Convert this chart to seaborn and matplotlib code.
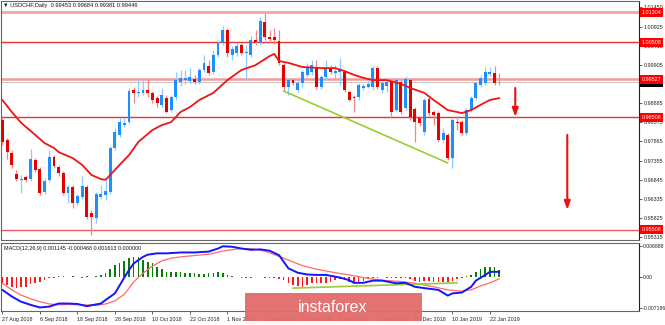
import matplotlib
matplotlib.use("Agg")
import matplotlib.pyplot as plt
import matplotlib.transforms as mtransforms
from matplotlib.patches import Rectangle
import seaborn as sns
import numpy as np

sns.set_style("white")
plt.rcParams['font.family'] = ['Liberation Sans', 'DejaVu Sans']

# ---------------- data ----------------
title_text = "\u25BC USDCHF,Daily  0.99453 0.99684 0.99381 0.99446"
macd_text = "MACD(12,26,9) 0.001145 -0.000468 0.001613 0.000000"

open_ = [0.9844, 0.9790, 0.9756, 0.9700, 0.9684, 0.9692, 0.9686, 0.9737, 0.9713, 0.9652,
         0.9684, 0.9745, 0.9718, 0.9702, 0.9649, 0.9665, 0.9622, 0.9638, 0.9665, 0.9596,
         0.9582, 0.9638, 0.9644, 0.9652, 0.9769, 0.9804, 0.9830, 0.9838, 0.9924, 0.9916,
         0.9916, 0.9924, 0.9916, 0.9902, 0.9884, 0.9902, 0.9870, 0.9905, 0.9945, 0.9950,
         0.9948, 0.9953, 0.9945, 0.9977, 0.9988, 0.9972, 1.0017, 1.0049, 1.0084, 1.0017,
         1.0022, 1.0044, 1.0022, 1.0017, 1.0057, 1.0049, 1.0105, 1.0065, 1.0065, 1.0054,
         0.9990, 0.9932, 0.9950, 0.9924, 0.9942, 0.9964, 0.9972, 0.9982, 0.9932, 0.9958,
         0.9982, 0.9969, 0.9972, 0.9972, 0.9918, 0.9905, 0.9905, 0.9929, 0.9932, 0.9932,
         0.9982, 0.9924, 0.9934, 0.9945, 0.9870, 0.9945, 0.9876, 0.9950, 0.9873, 0.9849,
         0.9812, 0.9900, 0.9865, 0.9862, 0.9790, 0.9804, 0.9742, 0.9838, 0.9838, 0.9809,
         0.9870, 0.9902, 0.9937, 0.9942, 0.9966, 0.9969, 0.99453]
close = [0.9785, 0.9758, 0.9724, 0.9686, 0.9686, 0.9684, 0.9740, 0.9710, 0.9649, 0.9681,
         0.9745, 0.9721, 0.9702, 0.9649, 0.9665, 0.9622, 0.9641, 0.9668, 0.9585, 0.9585,
         0.9646, 0.9646, 0.9654, 0.9769, 0.9812, 0.9838, 0.9836, 0.9921, 0.9916, 0.9918,
         0.9924, 0.9916, 0.9897, 0.9889, 0.9910, 0.9865, 0.9905, 0.9950, 0.9956, 0.9956,
         0.9958, 0.9945, 0.9977, 0.9996, 0.9969, 1.0017, 1.0049, 1.0084, 1.0022, 1.0033,
         1.0041, 1.0022, 1.0025, 1.0057, 1.0052, 1.0108, 1.0065, 1.0060, 1.0057, 0.9996,
         0.9932, 0.9950, 0.9942, 0.9942, 0.9972, 0.9985, 0.9990, 0.9932, 0.9958, 0.9982,
         0.9972, 0.9974, 0.9977, 0.9924, 0.9897, 0.9902, 0.9937, 0.9934, 0.9940, 0.9982,
         0.9932, 0.9942, 0.9945, 0.9865, 0.9950, 0.9865, 0.9953, 0.9852, 0.9838, 0.9836,
         0.9897, 0.9862, 0.9857, 0.9790, 0.9809, 0.9742, 0.9844, 0.9836, 0.9809, 0.9870,
         0.9902, 0.9942, 0.9956, 0.9972, 0.9972, 0.9942, 0.99446]
high = [0.9849, 0.9796, 0.9764, 0.9710, 0.9697, 0.9697, 0.9766, 0.9742, 0.9718, 0.9689,
        0.9764, 0.9750, 0.9724, 0.9708, 0.9670, 0.9670, 0.9646, 0.9694, 0.9670, 0.9604,
        0.9652, 0.9670, 0.9684, 0.9774, 0.9822, 0.9849, 0.9849, 0.9929, 0.9932, 0.9950,
        0.9950, 0.9953, 0.9921, 0.9908, 0.9929, 0.9910, 0.9910, 0.9972, 0.9977, 0.9977,
        0.9982, 0.9964, 0.9982, 1.0017, 1.0004, 1.0030, 1.0057, 1.0094, 1.0089, 1.0041,
        1.0049, 1.0049, 1.0044, 1.0068, 1.0084, 1.0118, 1.0129, 1.0084, 1.0089, 1.0084,
        0.9996, 0.9956, 0.9956, 0.9950, 0.9977, 0.9996, 1.0004, 1.0004, 0.9964, 1.0004,
        0.9990, 0.9990, 1.0009, 0.9977, 0.9924, 0.9910, 0.9942, 0.9940, 0.9950, 0.9988,
        0.9988, 0.9950, 0.9956, 0.9950, 0.9956, 0.9950, 0.9961, 0.9956, 0.9878, 0.9854,
        0.9902, 0.9905, 0.9870, 0.9868, 0.9822, 0.9809, 0.9849, 0.9854, 0.9844, 0.9876,
        0.9908, 0.9945, 0.9964, 0.9985, 0.9985, 0.9988, 0.99684]
low = [0.9777, 0.9740, 0.9716, 0.9681, 0.9649, 0.9678, 0.9681, 0.9705, 0.9644, 0.9646,
       0.9678, 0.9716, 0.9694, 0.9644, 0.9622, 0.9609, 0.9617, 0.9633, 0.9580, 0.9537,
       0.9569, 0.9633, 0.9630, 0.9646, 0.9764, 0.9798, 0.9825, 0.9833, 0.9889, 0.9905,
       0.9910, 0.9905, 0.9889, 0.9878, 0.9878, 0.9862, 0.9865, 0.9897, 0.9934, 0.9940,
       0.9942, 0.9940, 0.9940, 0.9972, 0.9964, 0.9966, 1.0012, 1.0044, 1.0012, 1.0004,
       1.0014, 1.0017, 0.9950, 1.0012, 1.0044, 1.0044, 1.0057, 1.0049, 1.0046, 0.9990,
       0.9924, 0.9910, 0.9937, 0.9918, 0.9932, 0.9958, 0.9964, 0.9926, 0.9926, 0.9950,
       0.9966, 0.9956, 0.9937, 0.9918, 0.9894, 0.9865, 0.9897, 0.9924, 0.9929, 0.9924,
       0.9926, 0.9916, 0.9918, 0.9849, 0.9865, 0.9860, 0.9870, 0.9844, 0.9785, 0.9828,
       0.9804, 0.9854, 0.9830, 0.9785, 0.9785, 0.9737, 0.9716, 0.9817, 0.9804, 0.9804,
       0.9865, 0.9897, 0.9932, 0.9937, 0.9961, 0.9937, 0.99381]

# moving average (read at sample bars)
ma_idx = [0, 2, 4, 7, 9, 11, 12, 15, 17, 19, 21, 22, 23, 25, 27, 29, 32, 34, 36, 38, 40, 42,
          45, 48, 51, 54, 57, 58, 59, 61, 64, 68, 71, 73, 75, 77, 79, 82, 85, 87, 90, 92, 95,
          97, 98, 100, 102, 104, 106]
ma_val = [0.9897, 0.9865, 0.9836, 0.9804, 0.9782, 0.9769, 0.9758, 0.9742, 0.9724, 0.9697,
          0.9686, 0.9684, 0.9697, 0.9724, 0.9750, 0.9785, 0.9817, 0.9830, 0.9838, 0.9865,
          0.9878, 0.9897, 0.9916, 0.9950, 0.9977, 0.9990, 1.0014, 1.0020, 1.0001, 0.9996,
          0.9985, 0.9982, 0.9982, 0.9974, 0.9964, 0.9956, 0.9950, 0.9950, 0.9940, 0.9929,
          0.9916, 0.9897, 0.9870, 0.9865, 0.9862, 0.9870, 0.9884, 0.9897, 0.9902]

# horizontal levels
levels = [1.01304, 1.00508, 0.99527, 0.98508, 0.95508]
level_colors = ["#f7a3a3", "#ee3030", "#f59a9a", "#ee3030", "#f05a5a"]
level_widths = [2.0, 1.0, 1.8, 1.0, 1.0]
last_price = 0.99446
price_ticks = [1.01450, 1.00925, 1.00415, 0.99905, 0.99395, 0.98885, 0.98375,
               0.97865, 0.97355, 0.96845, 0.96335, 0.95825, 0.95315]

# green trend line (bar, price)
trend_x = [60, 95]
trend_y = [0.9921, 0.9729]

# arrows (bar, start price, end price)
arrow_x = [109.4, 120.5]
arrow_y0 = [0.9929, 0.9804]
arrow_y1 = [0.9852, 0.9604]

# MACD histogram
hist = [-0.0015, -0.0019, -0.0023, -0.0026, -0.0024, -0.0023, -0.0017, -0.0014, -0.0011, -0.0008,
        -0.0004, -0.0002, 0.0001, 0.0001, -0.0001, 0.0001, -0.0001, -0.0002, 0.0001, -0.0001,
        0.0002, 0.0004, 0.0009, 0.0017, 0.0026, 0.0032, 0.0036, 0.0042, 0.0044, 0.0044,
        0.0039, 0.0034, 0.0030, 0.0023, 0.0017, 0.0011, 0.0011, 0.0011, 0.0011, 0.0009,
        0.0009, 0.0008, 0.0006, 0.0006, 0.0008, 0.0009, 0.0011, 0.0008, 0.0004, 0.0001,
        -0.0001, -0.0002, -0.0002, -0.0002, -0.0001, -0.0001, -0.0002, -0.0002, -0.0004, -0.0006,
        -0.0008, -0.0015, -0.0019, -0.0021, -0.0023, -0.0019, -0.0015, -0.0014, -0.0015, -0.0014,
        -0.0011, -0.0008, -0.0006, -0.0008, -0.0011, -0.0014, -0.0011, -0.0009, -0.0006, -0.0004,
        -0.0002, -0.0001, -0.0002, -0.0003, -0.0002, -0.0004, -0.0003, -0.0006, -0.0009, -0.0011,
        -0.0009, -0.0010, -0.0012, -0.0011, -0.0013, -0.0012, -0.0009, -0.0005, -0.0002, 0.0001,
        0.0004, 0.0011, 0.0017, 0.0021, 0.0023, 0.0023, 0.0016]

macd_idx = [0, 2, 4, 6, 8, 10, 12, 14, 16, 18, 20, 21, 22, 24, 25, 26, 27, 28, 30, 31, 33, 35,
            38, 41, 44, 46, 47, 49, 51, 53, 55, 57, 59, 60, 61, 63, 65, 67, 69, 72, 74, 75, 77,
            79, 81, 84, 86, 88, 90, 93, 95, 96, 98, 100, 101, 103, 104, 106]
macd_val = [-0.0030, -0.0045, -0.0057, -0.0064, -0.0070, -0.0068, -0.0061, -0.0061, -0.0062,
            -0.0067, -0.0063, -0.0061, -0.0053, -0.0038, -0.0020, -0.0002, 0.0015, 0.0030,
            0.0045, 0.0050, 0.0053, 0.0053, 0.0055, 0.0055, 0.0057, 0.0064, 0.0069, 0.0068,
            0.0064, 0.0061, 0.0062, 0.0059, 0.0049, 0.0034, 0.0019, 0.0009, 0.0005, 0.0004,
            0.0004, -0.0002, -0.0008, -0.0014, -0.0014, -0.0009, -0.0009, -0.0015, -0.0014,
            -0.0023, -0.0026, -0.0030, -0.0043, -0.0038, -0.0036, -0.0023, -0.0009, 0.0004,
            0.0011, 0.0011]
signal_idx = [0, 2, 4, 6, 8, 10, 12, 14, 17, 20, 22, 24, 26, 28, 30, 32, 34, 36, 38, 41, 44,
              47, 50, 53, 56, 60, 64, 67, 71, 74, 78, 81, 85, 88, 92, 95, 98, 100, 102, 104, 106]
signal_val = [-0.0015, -0.0030, -0.0042, -0.0050, -0.0057, -0.0062, -0.0064, -0.0063, -0.0064,
              -0.0065, -0.0062, -0.0055, -0.0040, -0.0012, 0.0008, 0.0024, 0.0036, 0.0042,
              0.0045, 0.0048, 0.0051, 0.0058, 0.0063, 0.0064, 0.0058, 0.0042, 0.0025, 0.0017,
              0.0009, 0.0004, -0.0004, -0.0008, -0.0011, -0.0015, -0.0023, -0.0030, -0.0033,
              -0.0030, -0.0021, -0.0014, -0.0005]
macd_trend_x = [62, 97]
macd_trend_y = [-0.0026, -0.0014]
macd_ticks = [0.006888, 0.0, -0.007186]
macd_tick_labels = ["0.006888", "0.00", "-0.007186"]

date_pos = [0, 8, 16, 24, 32, 40, 48, 56, 64, 72, 80, 88, 96, 104]
date_labels = ["27 Aug 2018", "6 Sep 2018", "18 Sep 2018", "28 Sep 2018", "10 Oct 2018",
               "22 Oct 2018", "1 Nov 2018", "13 Nov 2018", "23 Nov 2018", "5 Dec 2018",
               "17 Dec 2018", "27 Dec 2018", "10 Jan 2019", "22 Jan 2019"]

# ---------------- figure ----------------
W, H = 665, 325
fig = plt.figure(figsize=(W / 100, H / 100), dpi=100)
fig.patch.set_facecolor("white")

def frac(x0, y0, x1, y1):
    return [x0 / W, 1 - y1 / H, (x1 - x0) / W, (y1 - y0) / H]

ax = fig.add_axes(frac(1, 1, 639, 240))
axm = fig.add_axes(frac(1, 243, 639, 311))

XMIN, XMAX = -0.3, 135.8
n = len(close)
idx = np.arange(n)
o = np.array(open_); c = np.array(close); h = np.array(high); l = np.array(low)
up = c >= o

BLUE = "#1e8fff"; BLUE_W = "#8ccbff"
RED = "#e60000"; RED_W = "#ec8a8a"
TICK_FS = 3.9

ax.vlines(idx[up], l[up], h[up], color=BLUE_W, lw=0.9, zorder=3)
ax.vlines(idx[~up], l[~up], h[~up], color=RED_W, lw=0.9, zorder=3)
body = np.where(np.abs(c - o) < 0.00004, 0.00004, c - o)
ax.bar(idx[up], body[up], bottom=o[up], width=0.62, color=BLUE, lw=0, zorder=4)
ax.bar(idx[~up], body[~up], bottom=o[~up], width=0.62, color=RED, lw=0, zorder=4)

sns.lineplot(x=ma_idx, y=ma_val, ax=ax, color="#f01414", lw=1.3, zorder=5)

for lv, lc, lw in zip(levels, level_colors, level_widths):
    ax.axhline(lv, color=lc, lw=lw, zorder=2)
ax.axhline(last_price, color="#c8c8c8", lw=0.8, zorder=2)

sns.lineplot(x=trend_x, y=trend_y, ax=ax, color="#9acd32", lw=1.2, zorder=5)

for xa, y0, y1 in zip(arrow_x, arrow_y0, arrow_y1):
    ax.annotate("", xy=(xa, y1), xytext=(xa, y0),
                arrowprops=dict(arrowstyle="-|>,head_length=0.5,head_width=0.18",
                                color="#ee1111", lw=1.5, shrinkA=0, shrinkB=0), zorder=6)

ax.set_xlim(XMIN, XMAX)
ax.set_ylim(0.95236, 1.01610)
ax.set_xticks([])
ax.yaxis.tick_right()
ax.set_yticks(price_ticks)
ax.set_yticklabels([f"{t:.5f}" for t in price_ticks])
ax.tick_params(axis="y", length=2, width=0.5, pad=1.2, labelsize=TICK_FS, colors="#222222", right=True)
ax.set_ylabel("")
ax.set_xlabel("")
for s in ax.spines.values():
    s.set_color("#666666"); s.set_linewidth(0.8)
ax.spines["right"].set_color("#222222")

trans = mtransforms.blended_transform_factory(ax.transAxes, ax.transData)
ax.text(1.004, last_price - 0.00022, f"{last_price:.5f}", transform=trans, fontsize=TICK_FS,
        color="white", va="center", ha="left", clip_on=False, zorder=9,
        bbox=dict(boxstyle="square,pad=0.3", fc="black", ec="none"))
for lv in levels:
    ax.text(1.004, lv, f"{lv:.5f}", transform=trans, fontsize=TICK_FS, color="white",
            va="center", ha="left", clip_on=False, zorder=10,
            bbox=dict(boxstyle="square,pad=0.35", fc="#ff0000", ec="none"))

fig.text(3 / W, 1 - 5.5 / H, title_text, fontsize=4.1, color="#111111", va="center", ha="left")

# ---------------- MACD panel ----------------
hv = np.array(hist)
pos = hv >= 0
axm.bar(idx[pos], hv[pos], width=0.35, color="#0a7a0a", lw=0, zorder=3)
axm.bar(idx[~pos], hv[~pos], width=0.35, color="#ff1a1a", lw=0, zorder=3)
sns.lineplot(x=signal_idx, y=signal_val, ax=axm, color="#ff6a6a", lw=0.9, zorder=4)
sns.lineplot(x=macd_idx, y=macd_val, ax=axm, color="#1414ff", lw=1.4, zorder=5)
sns.lineplot(x=macd_trend_x, y=macd_trend_y, ax=axm, color="#9acd32", lw=1.2, zorder=4)

axm.set_xlim(XMIN, XMAX)
axm.set_ylim(-0.0078, 0.00765)
axm.yaxis.tick_right()
axm.set_yticks(macd_ticks)
axm.set_yticklabels(macd_tick_labels)
axm.tick_params(axis="y", length=2, width=0.5, pad=1.0, labelsize=3.7, colors="#222222", right=True)
axm.set_xticks(date_pos)
axm.set_xticklabels(date_labels, ha="left")
axm.tick_params(axis="x", length=2.5, width=0.5, pad=1.5, labelsize=TICK_FS, colors="#222222", bottom=True)
axm.set_ylabel("")
axm.set_xlabel("")
for s in axm.spines.values():
    s.set_color("#666666"); s.set_linewidth(0.8)
axm.spines["right"].set_color("#222222")
axm.text(0.004, 0.92, macd_text, transform=axm.transAxes, fontsize=3.9,
         color="#111111", va="center", ha="left")

# ---------------- watermark ----------------
fig.patches.append(Rectangle((245 / W, 1 - 321 / H), 177 / W, 28 / H, transform=fig.transFigure,
                             facecolor="#e26a6a", edgecolor="none", alpha=0.95, zorder=20))
fig.text(333 / W, 1 - 307 / H, "instaforex", fontsize=11.5, color="white", ha="center",
         va="center", zorder=21)

fig.savefig("out.png", dpi=100, facecolor="white")
